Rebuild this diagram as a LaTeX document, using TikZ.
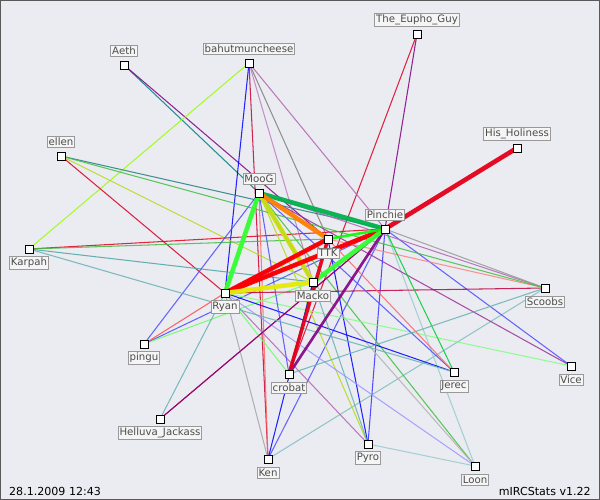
\documentclass[tikz,border=0pt]{standalone}
\usepackage{fontspec}
\setmainfont{DejaVu Sans}
\begin{document}
\begin{tikzpicture}[x=0.02cm,y=-0.02cm,
  lbl/.style={draw=gray!80,fill=gray!8,text=gray!60!black,font=\fontsize{5.8}{6}\selectfont,inner sep=0.8pt},
  mk/.style={draw=black,fill=white,minimum size=4.5pt,inner sep=0pt,line width=0.5pt},
  e/.style={line width=0.6pt,opacity=0.85},
  h/.style={line width=2.6pt,opacity=0.95},
  m/.style={line width=1.5pt,opacity=0.9}]
\definecolor{bg}{RGB}{235,235,242}
\fill[bg] (0,0) rectangle (600,500);
\draw[gray!70!black] (0.5,0.5) rectangle (599.5,499.5);
\useasboundingbox (0,0) rectangle (600,500);
\foreach \n/\x/\y in {eup/417/34,aeth/124/65,bah/249/63,his/517/148,ellen/61/156,moog/259/193,pin/385/229,ttk/328/239,kar/29/249,mac/313/282,ryan/225/293,sco/545/288,pingu/144/344,vice/571/366,cro/289/374,jer/454/372,hel/160/419,ken/268/459,pyro/368/444,loon/475/466}
  {\coordinate (\n) at (\x,\y);}
% thin edges
\foreach \a/\b/\c in {eup/pin/violet,eup/cro/red!70!violet,aeth/moog/teal,aeth/ttk/violet,bah/kar/green!40!yellow,bah/pin/violet!60,bah/ken/red!60!violet,bah/ttk/gray,bah/mac/violet!50,bah/ryan/blue,ellen/pin/teal!70!gray,ellen/mac/yellow!70!green,ellen/ryan/red!70!violet,kar/pin/red!80!violet,kar/mac/teal!70,kar/ttk/green!50!gray,pingu/pin/blue!70,pingu/mac/green!60,pingu/ryan/red!70,hel/pin/red!70!violet,hel/ryan/teal!60,ken/pin/blue!70,ken/sco/teal!50,ken/moog/red!60,ken/ryan/gray!70,pyro/pin/blue!80,pyro/moog/yellow!70!green,pyro/ryan/violet!60,pyro/ttk/blue,loon/moog/green!50!gray,loon/ryan/blue!40,loon/pyro/teal!40,loon/mac/gray!60,loon/pin/teal!40,vice/moog/violet!80,vice/pin/blue!70,vice/ryan/green!50,sco/moog/violet!60,sco/ryan/red!50!violet,sco/ttk/red!50,sco/pin/gray!80,jer/moog/blue!70,jer/ryan/blue,jer/pin/green!60!teal,jer/ttk/red!60,cro/sco/teal!60,cro/moog/blue!70,cro/ryan/green!60,cro/mac/teal,pingu/moog/blue!70,hel/pin/violet,ken/mac/blue,pyro/mac/teal!60,ellen/sco/green!50!gray,kar/jer/teal!60}
  {\draw[e,\c] (\a) -- (\b);}
% medium edges
\draw[m,violet!70!blue] (ryan) -- (pin);
\draw[m,blue!80] (moog) -- (mac);
\draw[m,violet] (cro) -- (pin);
\draw[m,blue] (ttk) -- (ryan);
% heavy edges
\draw[h,red!80!violet] (his) -- (pin);
\draw[h,green!70!blue] (moog) -- (pin);
\draw[h,green!80] (moog) -- (ryan);
\draw[h,yellow!80!green] (moog) -- (mac);
\draw[h,orange] (moog) -- (ttk);
\draw[h,red] (ryan) -- (pin);
\draw[h,red] (ryan) -- (ttk);
\draw[h,yellow!90!green] (ryan) -- (mac);
\draw[h,green!80] (mac) -- (pin);
\draw[h,red!80!violet,line width=2pt] (cro) -- (ttk);
\draw[m,green] (ttk) -- (pin);
% markers and labels
\foreach \n/\t/\d in {eup/The\_Eupho\_Guy/-1,aeth/Aeth/-1,bah/bahutmuncheese/-1,his/His\_Holiness/-1,ellen/ellen/-1,moog/MooG/-1,pin/Pinchie/-1,ttk/TTK/1,kar/Karpah/1,mac/Macko/1,ryan/Ryan/1,sco/Scoobs/1,pingu/pingu/1,vice/Vice/1,cro/crobat/1,jer/Jerec/1,hel/Helluva\_Jackass/1,ken/Ken/1,pyro/Pyro/1,loon/Loon/1}
  {\node[lbl] (\n-l) at ([shift={(0,\d*14)}]\n) {\t};
   \node[mk] (\n-m) at (\n) {};}
\node[font=\fontsize{6.3}{7}\selectfont,anchor=west] (date) at (3,491) {28.1.2009 12:43};
\node[font=\fontsize{6.3}{7}\selectfont,anchor=east] (ver) at (597,491) {mIRCStats v1.22};
\end{tikzpicture}
\end{document}
